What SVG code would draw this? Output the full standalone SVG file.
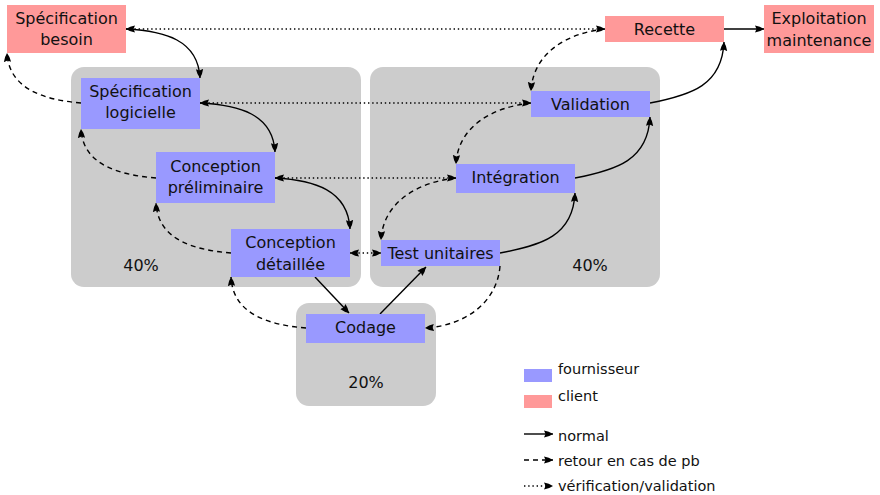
<svg xmlns="http://www.w3.org/2000/svg" width="880" height="495" viewBox="0 0 880 495">
<style>
text{font-family:"DejaVu Sans","Liberation Sans",sans-serif;font-size:16px;fill:#111;text-anchor:middle}
.leg{font-size:14.5px;text-anchor:start}
.panel{fill:#cccccc}
.f{fill:#9999ff}
.c{fill:#ff9999}
.n{fill:none;stroke:#000;stroke-width:1.4}
.d{stroke-dasharray:5 4}
.v{stroke-dasharray:1.4 2.8;stroke-width:1.5}
</style>
<defs>
<marker id="ah" markerUnits="userSpaceOnUse" viewBox="0 -5 10 10" refX="9" refY="0" markerWidth="10" markerHeight="10" orient="auto-start-reverse">
<path d="M9,0 Q5,2.8 0,3.6 L1.5,0 L0,-3.6 Q5,-2.8 9,0 Z" fill="#000"/>
</marker>
</defs>
<g id="panels">
<rect class="panel" x="71" y="67" width="290" height="220" rx="13"/>
<rect class="panel" x="370" y="67" width="290" height="220" rx="13"/>
<rect class="panel" x="296" y="303" width="140" height="103" rx="13"/>
<text x="141" y="271">40%</text>
<text x="590" y="271">40%</text>
<text x="366" y="388">20%</text>
</g>
<g id="connectors">
<path class="n v" d="M126,29 H605" marker-start="url(#ah)" marker-end="url(#ah)"/>
<path class="n v" d="M200,103 H531" marker-start="url(#ah)" marker-end="url(#ah)"/>
<path class="n v" d="M275,178 H456" marker-start="url(#ah)" marker-end="url(#ah)"/>
<path class="n v" d="M350,253 H381" marker-start="url(#ah)" marker-end="url(#ah)"/>
<path class="n" d="M126,29 C165,31 198,40 200,78" marker-end="url(#ah)"/>
<path class="n" d="M200,103 C239,105 273,114 275,152" marker-end="url(#ah)"/>
<path class="n" d="M275,178 C314,180 348,190 350,229" marker-end="url(#ah)"/>
<path class="n" d="M315,277 L349,313" marker-end="url(#ah)"/>
<path class="n" d="M380,314 L426,267" marker-end="url(#ah)"/>
<path class="n" d="M500,253 C542,245 573,236 575,193" marker-end="url(#ah)"/>
<path class="n" d="M575,178 C617,170 648,160 650,117" marker-end="url(#ah)"/>
<path class="n" d="M650,103 C692,95 722,85 724,42" marker-end="url(#ah)"/>
<path class="n" d="M724,29 H764" marker-end="url(#ah)"/>
<path class="n d" d="M81,103 C46,100 9,90 7,53" marker-end="url(#ah)"/>
<path class="n d" d="M156,178 C121,175 83,166 81,129" marker-end="url(#ah)"/>
<path class="n d" d="M231,253 C196,250 158,241 156,203" marker-end="url(#ah)"/>
<path class="n d" d="M306,328 C270,325 233,315 231,277" marker-end="url(#ah)"/>
<path class="n d" d="M500,266 C497,304 463,326 425,328" marker-end="url(#ah)"/>
<path class="n d" d="M456,178 C418,182 383,202 381,240" marker-end="url(#ah)"/>
<path class="n d" d="M531,103 C493,107 458,126 456,164" marker-end="url(#ah)"/>
<path class="n d" d="M605,29 C567,33 533,53 531,91" marker-end="url(#ah)"/>
</g>
<g id="spec-besoin"><rect class="c" x="7" y="5" width="119" height="48"/><text x="66.5" y="24">Spécification</text><text x="66.5" y="45">besoin</text></g>
<g id="spec-logicielle"><rect class="f" x="81" y="78" width="119" height="51"/><text x="140.5" y="97">Spécification</text><text x="140.5" y="118">logicielle</text></g>
<g id="conception-preliminaire"><rect class="f" x="156" y="152" width="119" height="51"/><text x="215.5" y="172">Conception</text><text x="215.5" y="193">préliminaire</text></g>
<g id="conception-detaillee"><rect class="f" x="231" y="229" width="119" height="48"/><text x="290.5" y="248">Conception</text><text x="290.5" y="270">détaillée</text></g>
<g id="codage"><rect class="f" x="306" y="314" width="119" height="29"/><text x="365.5" y="333">Codage</text></g>
<g id="test-unitaires"><rect class="f" x="381" y="240" width="119" height="26"/><text x="440.5" y="259">Test unitaires</text></g>
<g id="integration"><rect class="f" x="456" y="164" width="119" height="29"/><text x="515.5" y="183">Intégration</text></g>
<g id="validation"><rect class="f" x="531" y="91" width="119" height="26"/><text x="590.5" y="110">Validation</text></g>
<g id="recette"><rect class="c" x="605" y="16" width="119" height="26"/><text x="664.5" y="35">Recette</text></g>
<g id="exploitation"><rect class="c" x="764" y="5" width="110" height="48"/><text x="819" y="24">Exploitation</text><text x="819" y="46">maintenance</text></g>
<g id="legend">
<rect class="f" x="524" y="369" width="28" height="13"/><text class="leg" x="558" y="374">fournisseur</text>
<rect class="c" x="524" y="395" width="28" height="13"/><text class="leg" x="558" y="401">client</text>
<path class="n" d="M524,434 H553" marker-end="url(#ah)"/><text class="leg" x="558" y="441">normal</text>
<path class="n d" d="M524,460 H553" marker-end="url(#ah)"/><text class="leg" x="558" y="466">retour en cas de pb</text>
<path class="n v" d="M524,486 H553" marker-end="url(#ah)"/><text class="leg" x="558" y="491">vérification/validation</text>
</g>
</svg>
